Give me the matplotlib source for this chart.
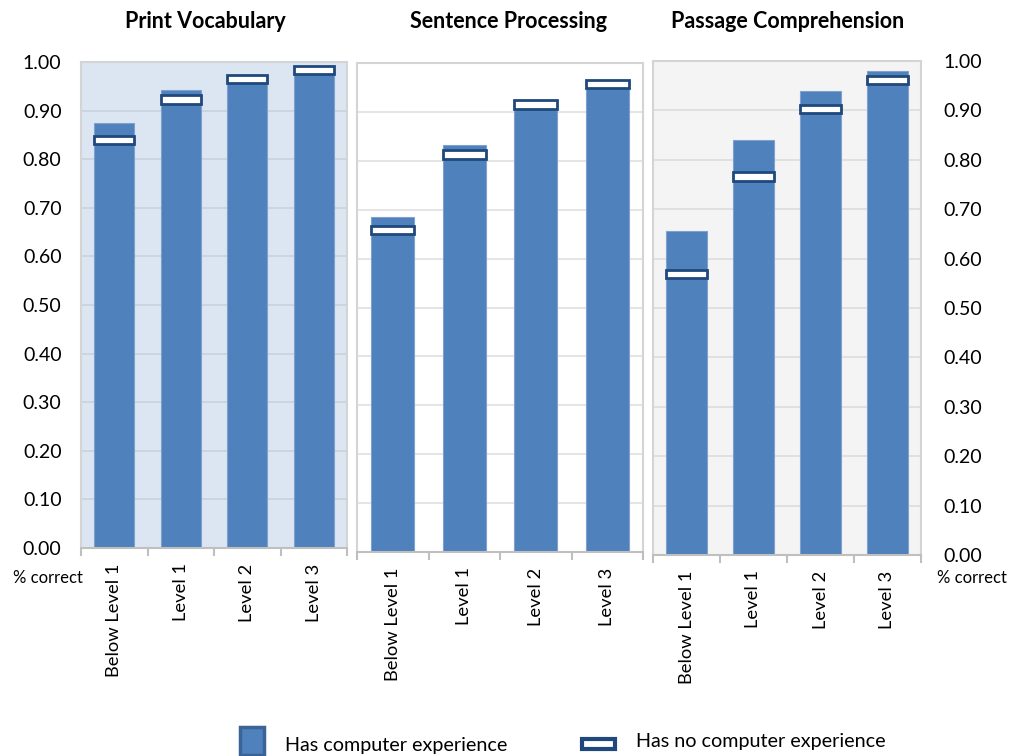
import matplotlib
matplotlib.use("Agg")
import matplotlib.pyplot as plt
from matplotlib.patches import Rectangle
import numpy as np

plt.rcParams['font.family'] = ['Lato', 'DejaVu Sans']

categories = ["Below Level 1", "Level 1", "Level 2", "Level 3"]
panel_titles = ["Print Vocabulary", "Sentence Processing", "Passage Comprehension"]
has_computer = [
    [0.875, 0.942, 0.962, 0.980],
    [0.686, 0.832, 0.912, 0.955],
    [0.656, 0.840, 0.940, 0.980],
]
no_computer = [
    [0.840, 0.923, 0.965, 0.983],
    [0.658, 0.813, 0.915, 0.957],
    [0.569, 0.766, 0.903, 0.961],
]
yticks = [0.0, 0.1, 0.2, 0.3, 0.4, 0.5, 0.6, 0.7, 0.8, 0.9, 1.0]
legend_labels = ["Has computer experience", "Has no computer experience"]

W, H = 1010, 756
fig = plt.figure(figsize=(W / 100, H / 100), dpi=100)

# pixel boxes: left, right, top, bottom
boxes = [(81, 347, 62, 548), (357, 643, 63, 552), (653, 921, 61, 555)]
bgs = ["#dce6f2", "#ffffff", "#f4f4f4"]
grids = ["#c9d1dc", "#e0e0e0", "#dcdcdc"]
title_x = [205, 508, 788]
bar_color = "#4f81bd"
mark_edge = "#1f497d"

x = np.arange(len(categories))
for i in range(3):
    l, r, t, b = boxes[i]
    ax = fig.add_axes([l / W, (H - b) / H, (r - l) / W, (b - t) / H])
    ax.set_facecolor(bgs[i])
    ax.set_xlim(-0.5, len(categories) - 0.5)
    ax.set_ylim(0, 1.0)
    ax.set_yticks(yticks)
    ax.grid(axis='y', color=grids[i], lw=1.2)
    ax.set_axisbelow(True)
    bw = 0.6
    ax.bar(x, has_computer[i], width=bw, color=bar_color, edgecolor="#7fa1cd", lw=0.8, zorder=2)
    mh = 0.017
    ax.bar(x, [mh] * 4, bottom=np.array(no_computer[i]) - mh / 2, width=bw,
           color="white", edgecolor=mark_edge, lw=2.0, zorder=3)
    for s in ax.spines.values():
        s.set_color("#d4d4d4")
        s.set_linewidth(1.5)
    ax.spines['bottom'].set_color("#bfbfbf")
    ax.set_xticks(x)
    ax.set_xticklabels(categories, rotation=90, va='top', ha='center', fontsize=13.2)
    ax.set_xticks(np.arange(-0.5, len(categories), 1.0), minor=True)
    ax.tick_params(axis='x', which='major', length=0, pad=11)
    ax.tick_params(axis='x', which='minor', length=6, color="#bfbfbf", width=1.5)
    if i == 0:
        ax.set_yticklabels([f"{v:.2f}" for v in yticks], fontsize=14)
        ax.tick_params(axis='y', length=0, pad=14)
    elif i == 2:
        ax.yaxis.tick_right()
        ax.set_yticklabels([f"{v:.2f}" for v in yticks], fontsize=14)
        ax.tick_params(axis='y', length=0, pad=16)
    else:
        ax.set_yticklabels([])
        ax.tick_params(axis='y', length=0)
    fig.text(title_x[i] / W, 1 - 22 / H, panel_titles[i], ha='center', va='center',
             fontsize=15.5, fontweight='bold')

fig.text(48 / W, 1 - 578 / H, "% correct", ha='center', va='center', fontsize=12)
fig.text(972 / W, 1 - 578 / H, "% correct", ha='center', va='center', fontsize=12)

# legend
fig.add_artist(Rectangle((240 / W, 1 - 755 / H), 24 / W, 28 / H, transform=fig.transFigure,
                         facecolor=bar_color, edgecolor="#3a6396", lw=2.5))
fig.text(285 / W, 1 - 745 / H, legend_labels[0], ha='left', va='center', fontsize=14.2)
fig.add_artist(Rectangle((582 / W, 1 - 749 / H), 33 / W, 10 / H, transform=fig.transFigure,
                         facecolor="white", edgecolor=mark_edge, lw=3))
fig.text(636 / W, 1 - 742 / H, legend_labels[1], ha='left', va='center', fontsize=14.2)

fig.savefig("out.png", dpi=100)
